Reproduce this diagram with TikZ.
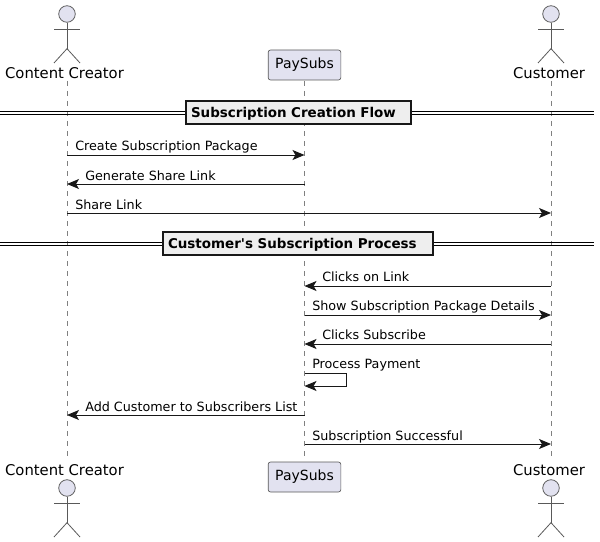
\documentclass[tikz,border=0pt]{standalone}
\usepackage{fontspec}
\setmainfont{DejaVu Sans}
\usetikzlibrary{arrows.meta}
\definecolor{partfill}{HTML}{E2E2F0}
\definecolor{partline}{HTML}{181818}
\definecolor{divfill}{HTML}{EEEEEE}
\tikzset{
  lifeline/.style={draw=gray,line width=0.5pt,dash pattern=on 3.75pt off 3.75pt},
  msg/.style={draw=partline,line width=0.75pt,-{Stealth[length=9pt,width=7.5pt,inset=2.2pt]}},
  msglabel/.style={anchor=base west,inner sep=0pt,font=\fontsize{9.55}{12}\selectfont},
  actorlabel/.style={inner sep=0pt,font=\fontsize{11.1}{13}\selectfont},
  partbox/.style={draw=gray!70!black,fill=partfill,line width=0.5pt,rounded corners=1.8pt,minimum width=54.5pt,minimum height=22.5pt,inner sep=0pt,font=\fontsize{10.5}{13}\selectfont},
  divbox/.style={draw=partline,fill=divfill,line width=1.5pt,anchor=west,inner ysep=0pt,inner xsep=3.75pt,minimum height=17pt,text height=7.6pt,text depth=1pt,align=left,font=\bfseries\fontsize{10.1}{12}\selectfont},
  divline/.style={draw=black,line width=0.75pt},
  limb/.style={draw=gray!70!black,line width=0.6pt},
  head/.style={draw=gray!70!black,fill=partfill,line width=0.6pt,circle,minimum size=12.4pt,inner sep=0pt}
}
% one stick figure, head at the given point
\newcommand{\stickman}[3]{
  \node[head] (#1) at (#2,#3) {};
  \draw[limb] (#1.south) -- ++(0,26) coordinate (#1hip);
  \draw[limb] (#2-13,#3+15) -- (#2+13,#3+15);
  \draw[limb] (#2-13,#3+49) -- (#1hip) -- (#2+13,#3+49);
}
\begin{document}
\begin{tikzpicture}[x=0.75pt,y=-0.75pt]
\useasboundingbox (0,0) rectangle (600,542);
% lifelines
\coordinate (creatorTop) at (67,81);
\coordinate (creatorEnd) at (67,461);
\coordinate (subsTop) at (304.5,81);
\coordinate (subsEnd) at (304.5,461);
\coordinate (customerTop) at (551,81);
\coordinate (customerEnd) at (551,461);
\draw[lifeline] (creatorTop) -- (creatorEnd);
\draw[lifeline] (subsTop) -- (subsEnd);
\draw[lifeline] (customerTop) -- (customerEnd);
% participants, top and bottom
\stickman{creatorHead}{67}{14}
\stickman{customerHead}{551}{14}
\stickman{creatorFoot}{67}{488}
\stickman{customerFoot}{551}{488}
\node[actorlabel] (creatorA) at (64.5,73) {Content Creator};
\node[actorlabel] (customerA) at (549,73) {Customer};
\node[actorlabel] (creatorB) at (64.5,470) {Content Creator};
\node[actorlabel] (customerB) at (549,470) {Customer};
\node[partbox] (subsA) at (304.5,65) {PaySubs};
\node[partbox] (subsB) at (304.5,477) {PaySubs};
% dividers
\foreach \d in {-1.6,1.6} {
  \draw[divline] (0,113.2+\d) -- (594,113.2+\d);
  \draw[divline] (0,244.2+\d) -- (594,244.2+\d);
}
\node[divbox,text width=161.25pt] (flowA) at (185,112.7) {Subscription Creation Flow};
\node[divbox,text width=195pt] (flowB) at (162,243.7) {Customer\textquotesingle s Subscription Process};
% messages
\coordinate (m1) at (0,155);
\coordinate (m2) at (0,184);
\coordinate (m3) at (0,213);
\coordinate (m4) at (0,286);
\coordinate (m5) at (0,315);
\coordinate (m6) at (0,344);
\coordinate (m7) at (0,373);
\coordinate (m8) at (0,415);
\coordinate (m9) at (0,444);
\draw[msg] (creatorTop |- m1) -- (subsTop |- m1);
\draw[msg] (subsTop |- m2) -- (creatorTop |- m2);
\draw[msg] (creatorTop |- m3) -- (customerTop |- m3);
\draw[msg] (customerTop |- m4) -- (subsTop |- m4);
\draw[msg] (subsTop |- m5) -- (customerTop |- m5);
\draw[msg] (customerTop |- m6) -- (subsTop |- m6);
\draw[msg] (subsTop |- m7) -- ++(42,0) -- ++(0,13) -- ++(-42,0);
\draw[msg] (subsTop |- m8) -- (creatorTop |- m8);
\draw[msg] (subsTop |- m9) -- (customerTop |- m9);
\node[msglabel] (l1) at (75,150) {Create Subscription Package};
\node[msglabel] (l2) at (85,180) {Generate Share Link};
\node[msglabel] (l3) at (75,209) {Share Link};
\node[msglabel] (l4) at (322,281) {Clicks on Link};
\node[msglabel] (l5) at (312,310) {Show Subscription Package Details};
\node[msglabel] (l6) at (322,339) {Clicks Subscribe};
\node[msglabel] (l7) at (312,368) {Process Payment};
\node[msglabel] (l8) at (85,411) {Add Customer to Subscribers List};
\node[msglabel] (l9) at (312,440) {Subscription Successful};
\end{tikzpicture}
\end{document}
